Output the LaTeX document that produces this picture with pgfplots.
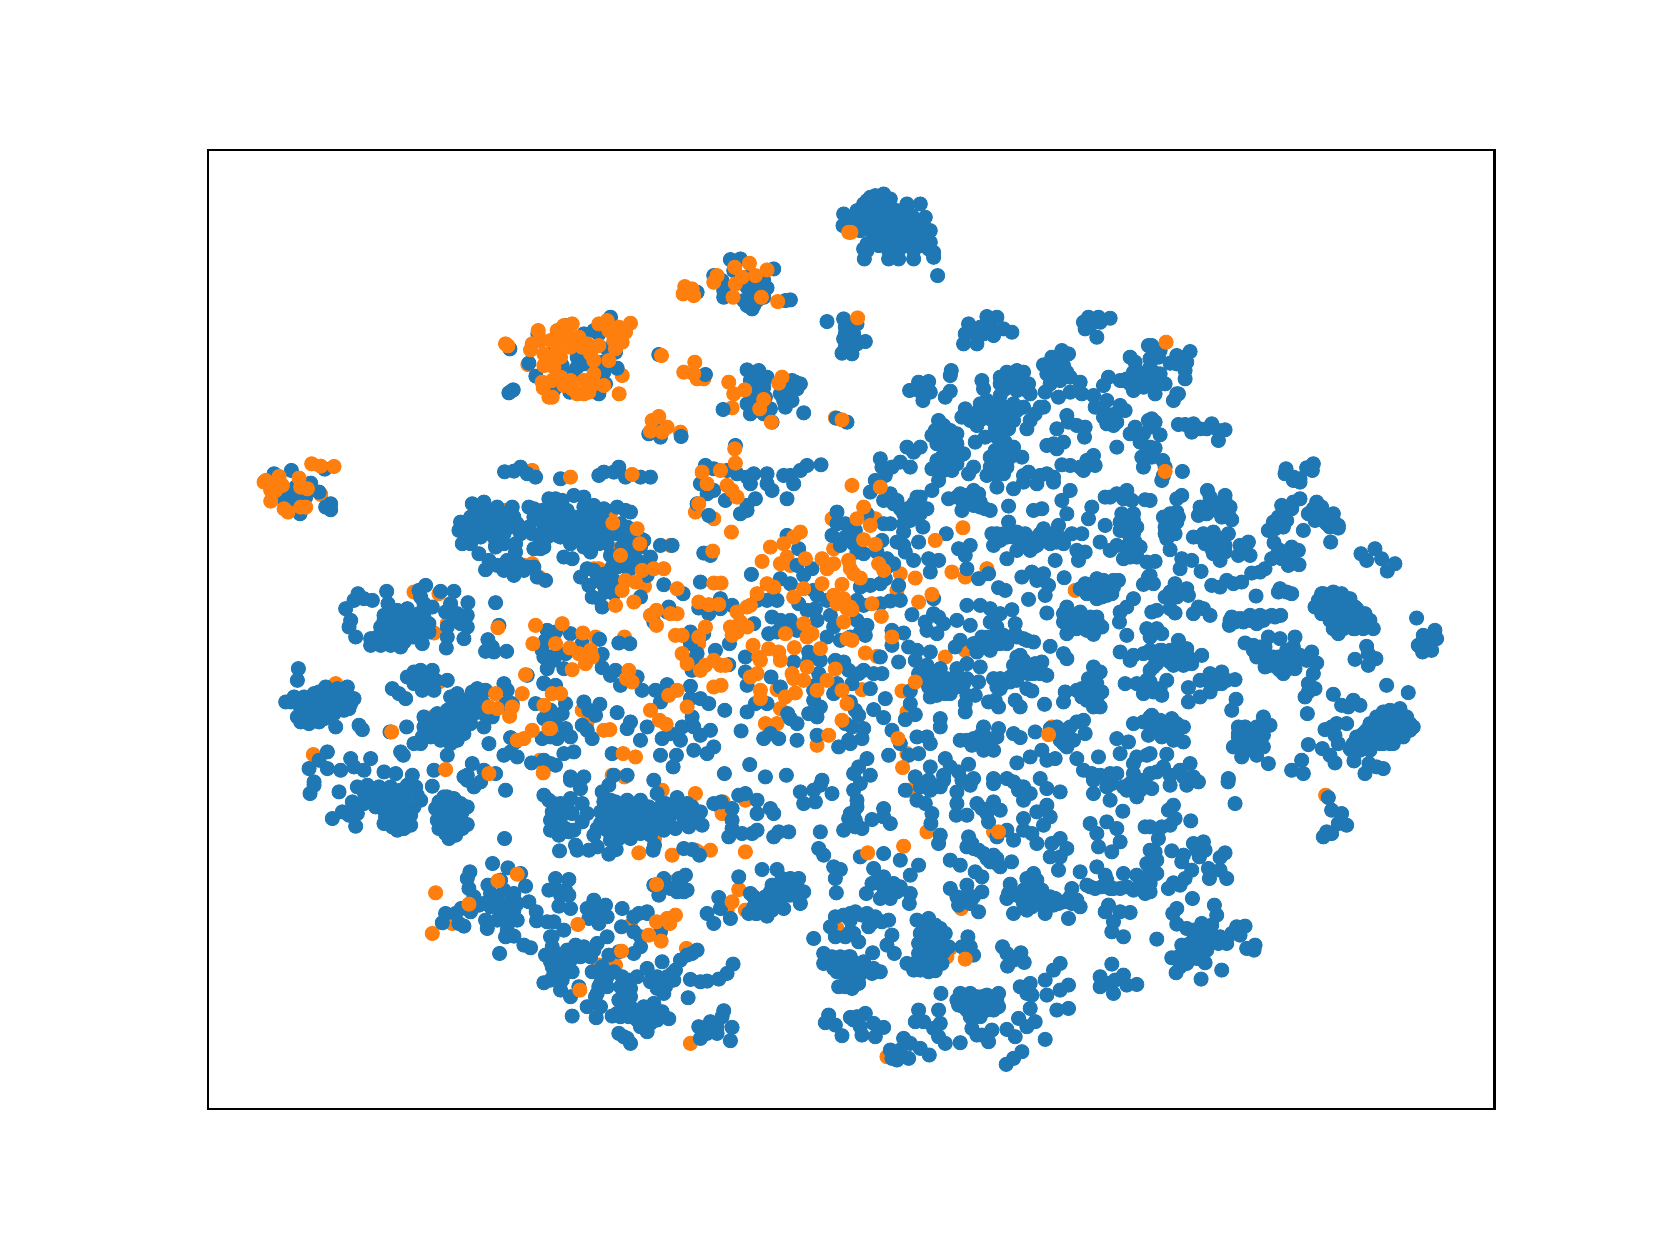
\documentclass[border=0pt]{standalone}
\usepackage{pgfplots}
\pgfplotsset{compat=1.18}
\definecolor{tabblue}{HTML}{1F77B4}
\definecolor{taborange}{HTML}{FF7F0E}
\begin{document}
\begin{tikzpicture}
\path (-103.8pt,-68.5pt) rectangle (727.3pt,554.5pt);
\begin{axis}[scale only axis,width=643.5pt,height=480pt,at={(0.5pt,-0.4pt)},anchor=south west,
 xmin=-127,xmax=3734,ymin=-93,ymax=2787,y dir=reverse,xtick=\empty,ytick=\empty,
 axis line style={line width=1.05pt,black},clip=true]
% orange, drawn first
\addplot[only marks,mark=*,mark size=3.55pt,color=taborange,mark options={draw=none,fill=taborange}] coordinates {
(832,552)(782,632)(845,870)
(1115,585)(1106,640)(1360,595)(1445,682)(1500,670)(1755,712)(1290,755)(1340,595)
(210,942)(765,990)(845,1150)(865,1190)(820,1155)(490,1235)(565,1240)(590,1330)(550,1358)(255,1510)(565,1505)(550,1608)(188,1723)(868,1740)
(1080,1000)(1045,1165)(1030,1165)(1105,1105)(1182,1218)(1280,1300)(1260,1095)(1335,995)(1390,1015)(1620,1155)(1745,1015)(1610,1130)(1570,1225)(1750,1105)(1610,1330)(1470,1340)(1345,1390)(1590,1585)(1580,1528)(1545,1630)(1580,1630)(1155,1730)(1085,1785)(995,1590)(1010,1625)(1700,1695)(1122,1370)(1035,1370)(1122,1790)
(1875,1015)(1950,1180)(2145,1190)(2210,1165)(1940,1230)(2005,1265)(2475,1230)(1970,1605)(1955,1532)(1880,1428)(2085,1430)(2145,1410)(1835,1528)(1970,1595)(1970,1720)(1995,1790)(2405,1640)
(1165,2018)(1235,1830)(1335,1840)(1212,1975)(1343,2015)(1415,1900)(1485,2015)(1380,2010)(1270,2105)(1308,2305)(1265,2025)(1320,2590)(1335,2010)(1485,1860)(1412,1885)(1418,1865)(1465,2128)(1430,2190)(1760,2245)(1485,2190)(1045,2355)(1095,2355)(1140,2235)
(1975,1830)(2030,1955)(2230,1955)(2133,2185)(2100,2305)(2090,2330)(1910,2630)
(3227,1845)
(605,2230)(545,2260)(345,1822)
};
% blue
\addplot[only marks,mark=*,mark size=3.55pt,color=tabblue,mark options={draw=none,fill=tabblue}] coordinates {
(778,505)(835,548)(856,587)(775,637)(788,628)(862,460)(222,866)(122,870)(70,880)(180,908)(762,874)(790,872)(810,860)(830,880)(855,890)
(1080,410)(1115,452)(1030,450)(1000,460)(1045,460)(975,490)(915,500)(1070,505)(935,555)(980,530)(980,560)(970,575)(1000,550)(1055,545)(1060,575)(1100,563)(910,628)(958,635)(1045,640)(1065,610)(1095,515)(945,435)
(1225,522)(1365,582)(1340,335)
(1440,237)(1470,235)(1390,285)(1420,330)(1420,350)(1490,375)(1505,385)(1510,320)(1550,322)(1540,300)(1490,290)(1570,265)(1500,350)(1620,358)(1605,360)(1415,300)(1450,270)(1520,360)
(1730,423)(1780,415)(1785,440)(1780,475)(1775,518)(1790,500)(1785,460)(1780,100)(1778,135)(1800,125)
(1490,568)(1525,570)(1550,590)(1520,600)(1540,620)(1500,640)(1530,640)(1500,670)(1500,700)(1540,700)(1560,685)(1565,725)(1418,687)(1490,670)(1625,600)(1650,610)(1600,640)(1620,625)(1605,680)(1660,697)(1635,605)(1520,660)
(1758,713)(1790,725)(1195,760)(1230,770)(1292,768)(1220,745)
(1455,795)(1365,855)(1390,865)(1430,870)(1460,880)(1510,880)(1550,880)(1600,885)(1620,885)(1650,870)(1670,855)(1712,853)(1490,890)(1105,860)(1060,875)(1045,885)(1090,875)(1125,890)(1170,890)(1200,890)(930,895)
(1860,50)(1900,40)(1920,55)(1840,70)(1880,70)(1910,80)(1970,70)(2010,70)(2025,110)(2040,150)(2040,185)(2050,215)(2050,230)
(1850,60)(1880,60)(1910,60)(1820,90)(1850,90)(1880,90)(1910,90)(1940,90)(1970,90)(1820,120)(1850,120)(1880,120)(1910,120)(1940,120)(1970,120)(1830,150)(1860,150)(1890,150)(1920,150)(1950,150)(1980,150)(2010,150)(1870,180)(1900,180)(1930,180)(1960,180)(1990,180)(2030,180)(1850,210)(1915,210)(1945,210)(1990,210)(1842,235)(1915,235)(1945,235)(1990,235)(2062,285)
(1820,430)(1810,460)(1845,483)(1820,490)(1805,520)(1795,470)(1790,440)(1785,500)
(1978,630)(2005,605)(2035,603)(2040,635)(2018,660)(2005,630)(2103,570)(2100,585)(2100,632)(2085,650)
(2210,408)(2240,410)(2155,430)(2145,460)(2140,490)(2180,490)(2190,440)(2220,440)(2230,465)(2260,445)(2285,455)(2175,460)(2200,460)
(2515,410)(2545,410)(2580,413)(2505,445)(2540,470)(2520,435)(2500,425)(2550,425)
(2195,600)(2200,625)(2300,570)(2260,590)(2250,610)(2280,600)(2320,575)(2335,610)(2310,610)(2250,645)(2340,640)
(2435,510)(2455,520)(2405,530)(2380,553)(2390,580)(2420,560)(2450,575)(2430,600)(2460,635)(2425,650)(2385,635)(2490,605)(2495,640)(2530,645)(2410,590)(2440,555)
(2560,615)(2575,590)(2610,600)(2640,530)(2655,545)(2660,570)(2650,630)(2630,595)(2660,600)(2685,580)(2695,495)(2700,535)(2680,620)(2700,610)
(2535,680)(2570,660)(2560,690)(2610,675)(2625,690)(2595,700)(2570,730)(2590,735)(2560,710)(2600,725)
(2145,685)(2135,710)(2160,720)(2190,670)(2210,660)(2220,690)(2180,735)(2250,700)(2290,670)(2320,680)(2280,700)(2370,680)(2380,680)(2355,700)(2340,720)(2330,745)(2250,740)(2275,745)(2235,745)(2450,705)(2420,745)(2480,735)(2505,740)(2503,770)(2455,725)
(2065,720)(2080,735)(2045,765)(2120,760)(2055,750)(2100,750)
(1970,800)(2010,800)(1950,845)(1980,860)(1925,860)(1890,835)(1895,860)(1905,885)(1875,900)(1990,815)
(2085,800)(2100,810)(2075,830)(2065,860)(2045,865)(2100,845)(2140,820)(2120,790)(2090,830)(2120,850)
(2205,770)(2175,785)(2240,770)(2265,785)(2235,810)(2290,800)(2315,830)(2250,830)(2220,860)(2240,880)(2170,860)(2155,880)(2210,885)(2270,860)(2280,830)
(2390,795)(2410,790)(2440,785)(2420,805)(2600,800)(2435,853)(2460,855)(2490,860)(2500,870)(2530,825)(2535,855)(2510,840)(2320,885)(2335,875)(2390,880)(2370,885)(2410,890)
(2675,830)(2680,860)(2690,800)(2640,760)(2655,740)(2680,760)(2670,785)(2695,720)(2700,800)
(2705,495)(2730,510)(2725,530)(2700,535)(2760,548)(2780,525)(2820,513)(2800,530)(2810,545)(2805,570)(2805,595)(2780,550)(2710,575)(2730,580)(2715,600)(2745,610)(2715,640)(2705,590)(2780,640)(2770,660)(2785,640)
(2705,715)(2715,725)(2700,740)(2785,732)(2805,732)(2830,730)(2825,755)(2850,745)(2885,730)(2870,745)(2925,748)(2905,750)(2905,780)(2730,763)(2715,803)(2705,830)(2738,840)(2745,860)(2740,885)(2797,873)
(3108,865)(3105,880)(3130,890)(3150,895)(3170,862)(3190,850)(3187,870)
(70,910)(95,955)(120,940)(130,975)(148,1000)(205,935)(150,940)(240,970)(240,988)(225,980)(135,920)(165,950)
(665,970)(700,965)(740,980)(785,980)(835,980)(850,985)(690,1000)(720,1010)(760,1015)(790,1010)(630,1025)(625,1050)(660,1030)(690,1040)(720,1030)(750,1040)(780,1040)(835,1040)(880,1025)(810,1060)(870,1060)(900,1030)(660,1065)(690,1070)(730,1070)(760,1060)(635,1090)(685,1120)(735,1100)(795,1090)(795,1115)(870,1105)(850,1105)(895,955)(900,990)(715,1140)(705,1168)(740,1155)(770,1140)(795,1150)(760,1170)(790,1185)(820,1170)(850,1160)(860,1190)(885,1200)(735,1095)(660,1090)
(322,1240)(310,1260)(285,1285)(365,1260)(340,1255)(300,1320)(295,1340)(315,1370)(408,1233)(525,1215)(505,1230)(570,1233)(610,1233)(652,1267)(412,1270)(400,1305)(440,1290)(470,1285)(510,1250)(545,1280)(520,1270)(600,1270)(585,1295)(620,1300)(650,1305)(650,1340)(640,1375)(590,1340)(590,1370)(587,1403)(535,1355)(515,1390)(390,1340)(420,1350)(450,1320)(490,1310)(520,1310)(470,1350)(360,1375)(390,1395)(420,1395)(450,1400)(410,1370)(380,1370)(480,1370)(440,1370)(500,1340)(610,1320)(630,1330)(400,1320)(430,1320)
(735,1267)(745,1335)(712,1378)(705,1413)(730,1415)(768,1413)(725,1400)
(890,1350)(875,1410)(885,1380)(880,1430)(890,1465)(900,1430)(880,1508)(830,1485)
(143,1465)(140,1500)(105,1565)(130,1550)(160,1550)(190,1540)(225,1520)(260,1525)(290,1520)(310,1555)(280,1590)(250,1570)(210,1565)(175,1580)(140,1610)(175,1630)(205,1625)(235,1600)(255,1640)(325,1635)(335,1648)(190,1600)(220,1550)(170,1600)(250,1600)(280,1560)
(425,1525)(465,1555)(445,1540)(470,1490)(490,1475)(510,1470)(545,1470)(590,1500)(515,1530)(550,1530)(490,1510)(520,1500)(555,1500)(418,1655)(468,1640)
(620,1540)(600,1550)(640,1560)(680,1525)(690,1540)(665,1535)(705,1530)(520,1610)(560,1600)(590,1590)(620,1600)(650,1580)(670,1600)(520,1640)(550,1630)(580,1620)(610,1635)(640,1620)(700,1600)(725,1610)(700,1640)(515,1670)(490,1690)(540,1670)(570,1680)(600,1690)(590,1660)(640,1660)(715,1690)(560,1645)(530,1660)(610,1670)
(760,1510)(770,1530)(785,1570)(765,1570)(855,1570)(880,1615)(880,1510)(780,1672)(795,1685)(875,1675)(900,1670)(760,1725)(780,1715)(800,1730)(843,1748)(880,1740)(900,1750)
(230,1715)(205,1740)(175,1765)(300,1735)(360,1735)(270,1770)(310,1760)(340,1770)(230,1765)(400,1775)(435,1780)(485,1785)(190,1805)(458,1725)(450,1715)(550,1770)(590,1725)(665,1750)(650,1785)(710,1780)(735,1780)(700,1770)(640,1790)
(915,955)(970,945)(920,990)(950,990)(1000,980)(1030,975)(930,1020)(970,1010)(1000,1010)(1040,1010)(920,1040)(960,1050)(1000,1050)(1030,1040)(1055,1015)(990,1080)(930,1070)(960,1090)(1000,1100)(940,1130)(965,1135)(1100,980)(1125,990)(1140,995)(1130,1040)(1110,1030)(1050,1070)(1020,1080)(1070,1090)(1120,1070)(1170,1075)(1180,1080)(1080,1125)(1115,1100)(1150,1120)(1190,1145)(1135,1170)(1100,1160)(1190,1185)(1010,1165)(990,1190)(1030,1170)(1015,1215)(1065,1235)(1045,1255)(1055,1280)(1090,1240)(1170,1250)(1265,1095)(1230,1095)(1240,1213)(1298,1240)(1503,1182)(1350,1205)
(1210,1325)(1255,1280)(1250,1295)(1345,1283)(1375,1300)(1410,1255)(1410,1285)(1445,1275)(1360,1118)(1380,1125)
(1645,1105)(1610,1065)(1640,1155)(1685,1165)(1760,995)(1760,1030)(1785,1030)(1745,1065)(1770,1095)(1785,1070)(1660,1185)(1590,1195)(1620,1210)(1690,1230)(1730,1260)(1645,1270)(1580,1260)(1550,1260)(1520,1260)(1700,1245)(1695,1285)(1670,1290)(1700,1320)(1565,1310)(1590,1320)(1580,1355)(1555,1360)(1620,1320)(1595,1340)(1640,1350)(1510,1330)
(1740,1305)(1750,1340)(1730,1370)(1770,1380)(1800,1370)
(1437,1390)(1395,1410)(1485,1430)(1630,1445)(1435,1453)(1320,1355)(1320,1390)(1360,1360)(1340,1420)(1325,1440)(1325,1470)
(1485,1475)(1490,1515)(1562,1490)(1590,1520)(1515,1570)(1550,1570)(1490,1595)(1675,1415)(1675,1440)(1710,1440)(1705,1480)(1695,1515)(1690,1530)(1690,1560)(1710,1580)(1675,1600)(1700,1610)(1780,1445)(1755,1440)(1760,1510)(1750,1540)(1795,1470)
(1785,1630)(1795,1680)(1765,1700)(1700,1665)(1612,1600)(1620,1615)(1640,1630)(1560,1660)(1540,1675)(1585,1675)(1640,1680)
(1472,1652)(1423,1590)(1320,1518)(1250,1513)(1215,1530)(1175,1530)(1230,1565)(1325,1610)(1320,1555)(1350,1555)(1375,1570)(1100,1597)(1140,1625)(1190,1640)(1170,1680)(1130,1645)
(1235,1675)(1260,1660)(1295,1640)(1330,1640)(1380,1650)(1350,1665)(1290,1680)(1330,1710)(1370,1720)(1390,1700)(1230,1725)(1278,1725)(1268,1760)(1085,1720)(1090,1785)(1130,1785)(960,1790)(1000,1790)(1210,1800)(1422,1780)(1545,1790)(1608,1785)(1498,1753)
(915,1355)(960,1360)(995,1390)(1047,1377)(1055,1422)(1055,1462)(1105,1388)(1138,1390)(920,1420)(945,1420)(910,1440)(940,1465)(1080,1485)(1110,1515)(1095,1470)(1160,1490)(915,1515)
(1000,1565)(1048,1572)(945,1570)(1015,1590)(1035,1605)(900,1590)(935,1600)(915,1630)(945,1645)(920,1675)(960,1670)(995,1635)(1025,1675)(1010,1650)(970,1715)(940,1720)(915,1755)
(1565,930)(1610,955)(1630,910)(1550,910)(1500,910)(1340,970)(1375,1005)(1470,1000)(1515,955)(1490,975)(1425,960)(1370,940)(1350,910)(1390,930)(1490,990)
(2045,930)(2065,900)(2010,950)(1990,970)(1950,985)(1960,1030)(2030,985)(1980,1020)(1920,940)(1930,970)(1860,935)(1900,960)(1850,1000)(1900,1030)(1920,1030)(2018,1040)(2088,1060)(1815,1050)(1800,1045)(1895,1080)(1810,1090)
(2095,955)(2130,940)(2170,930)(2135,990)(2160,970)(2190,980)(2220,990)(2170,950)(2275,977)(2240,920)(2290,925)(2320,905)(2360,910)(2410,905)(2350,990)(2375,985)
(2460,930)(2435,960)(2450,1000)(2525,980)(2515,1015)(2565,1035)(2580,950)(2630,930)(2645,960)(2610,1025)(2650,1020)(2685,958)
(2275,1025)(2225,1060)(2230,1095)(2270,1070)(2300,1055)(2325,1060)(2270,1135)(2300,1110)(2340,1090)(2380,1045)(2425,1035)(2390,1065)(2440,1090)(2400,1090)(2465,1060)(2495,1060)(2480,1110)(2485,1140)(2505,1115)(2415,1140)(2360,1095)(2550,1085)
(2630,1055)(2655,1085)(2660,1130)(2620,1135)(2580,1110)(2600,1095)(2625,1100)(2690,1145)(2125,1105)(2160,1095)(2145,1125)
(1940,1085)(2005,1085)(1965,1115)(1910,1135)(1930,1150)(1990,1140)(2065,1140)(2035,1135)(1960,1095)(1880,1115)(1840,1120)(1820,1115)
(2040,1175)(2150,1165)(2185,1195)(2215,1180)(1905,1195)(1890,1210)(1860,1215)(1945,1215)(1830,1220)(1910,1160)
(2245,1222)(2265,1230)(2335,1257)(2385,1245)(2315,1190)(2345,1175)(2380,1180)(2360,1200)(2395,1215)(2442,1192)
(2505,1210)(2540,1195)(2490,1225)(2525,1230)(2555,1250)(2590,1220)(2605,1200)(2550,1220)(2680,1212)(2695,1190)
(2050,1255)(1950,1260)(1920,1262)(1890,1270)(1820,1260)(1840,1275)(1985,1303)(2050,1300)(2025,1325)(2030,1350)(2060,1360)(2080,1330)(2120,1320)(2160,1335)(2065,1310)
(2150,1275)(2190,1275)(2220,1285)(2285,1288)(2220,1325)(2250,1300)(2295,1330)(2240,1340)(2390,1298)
(2440,1300)(2490,1295)(2520,1310)(2545,1330)(2450,1360)(2530,1362)(2440,1325)(2480,1330)(2500,1340)
(2650,1255)(2630,1280)(2610,1295)(2608,1325)(2690,1345)(2630,1365)(2400,1398)(2440,1420)(2450,1435)
(1925,1350)(1960,1358)(1925,1395)(1830,1355)(1850,1335)(1820,1320)(1845,1365)(1890,1430)(1945,1445)
(1975,1400)(2000,1410)(2040,1415)(1995,1440)(2030,1455)(2005,1480)(2115,1400)(2175,1390)(2215,1370)(2240,1390)(2270,1375)(2330,1380)(2180,1415)(2220,1410)(2295,1360)(2130,1380)
(2120,1465)(2150,1450)(2190,1460)(2040,1490)(2070,1465)(2050,1520)(2090,1510)(2140,1510)(2040,1550)(2100,1540)(2185,1505)
(2310,1425)(2290,1455)(2320,1460)(2375,1445)(2390,1485)(2350,1480)(2230,1495)(2240,1520)(2280,1505)(2330,1525)(2345,1532)(2320,1455)
(2610,1415)(2650,1425)(2680,1420)(2640,1440)(2700,1410)(2625,1510)(2660,1510)(2680,1540)(2700,1470)(2690,1500)
(2530,1460)(2550,1475)(2515,1495)(2540,1510)(2495,1525)(2445,1535)(2440,1565)(2480,1530)(2520,1540)(2555,1535)(2550,1580)(2510,1560)
(1980,1532)(1980,1570)(1965,1618)(1995,1603)(2150,1545)(2175,1545)(2145,1595)(2145,1570)(2215,1565)(2235,1560)(2245,1580)(2295,1560)(2310,1580)(2383,1572)
(1840,1470)(1870,1480)(1895,1480)(1860,1525)(1905,1555)(1825,1480)(1805,1510)(1800,1565)(1815,1590)(1825,1605)(1870,1588)(1900,1612)(1840,1645)(1835,1675)(1805,1640)(1800,1690)
(2070,1615)(2070,1640)(1925,1650)(1950,1690)(2000,1670)(2030,1670)(2040,1690)(2005,1720)(1975,1725)(1915,1725)(1850,1735)(1825,1760)(1810,1780)(1860,1785)(2040,1760)(2085,1735)(2100,1760)(2125,1775)(2080,1785)(2155,1752)(1995,1790)
(2130,1680)(2170,1675)(2200,1640)(2185,1670)(2230,1710)(2245,1645)(2290,1660)(2310,1672)(2355,1655)(2420,1655)(2440,1650)(2450,1700)(2480,1625)(2500,1620)(2505,1660)(2470,1680)(2400,1645)(2430,1680)
(2300,1748)(2340,1730)(2375,1710)(2415,1735)(2390,1740)(2480,1735)(2545,1730)(2525,1780)(2500,1770)(2600,1675)(2635,1685)(2610,1720)(2650,1750)(2660,1730)(2580,1780)(2600,1780)(2550,1785)(2650,1780)(2690,1725)(2695,1665)(2650,1630)(2680,1625)(2700,1610)(2170,1795)(2230,1795)(2270,1795)(2370,1795)
(2735,900)(3150,905)(3130,900)(2795,945)(2780,955)(2872,930)(2925,945)(2940,980)(2945,1018)(2925,990)(2900,975)(2860,980)(2845,1005)(2885,960)(2850,995)(2740,1010)(2780,995)(2760,1010)(2780,1025)(2745,1040)(2775,1060)(2750,1075)(2760,1108)(2715,1143)
(2830,1070)(2860,1060)(2890,1055)(2935,1060)(2865,1090)(2905,1090)(2925,1115)(2890,1120)(2910,1140)(2900,1075)
(2995,1085)(2970,1095)(2965,1125)(3000,1125)(2985,1105)(2795,1135)(2790,1165)(2825,1140)(2853,1173)
(3072,1087)(3125,1100)(3145,1110)(3065,1135)(3100,1135)(3115,1155)(3147,1153)(3120,1125)(3005,1178)(3045,1165)(3030,1175)
(3095,975)(3150,955)(3130,965)(3100,1005)(3055,1050)(3070,1025)(3100,1040)(3090,1020)
(3200,965)(3175,1000)(3215,980)(3250,1000)(3200,1015)(3230,1030)(3265,1035)(3265,1043)(3160,1050)(3220,1000)
(3242,1085)(3333,1120)(3375,1105)(3350,1140)(3395,1135)(3435,1150)(3412,1172)
(2885,1215)(2910,1220)(2930,1200)(2975,1205)(2950,1210)(2710,1210)(2700,1185)(2775,1210)(2810,1225)(2745,1250)(2780,1250)(2815,1245)(2760,1235)
(3018,1247)(3090,1225)(3085,1235)(3125,1240)(3110,1235)
(3220,1240)(3250,1235)(3205,1280)(3300,1255)(3230,1300)(3270,1300)(3320,1285)(3340,1310)(3250,1345)(3265,1360)(3350,1320)(3370,1345)(3315,1345)(3290,1325)(3260,1260)(3275,1280)(3225,1275)
(3500,1313)(3555,1350)(3520,1365)(3560,1375)(3505,1395)(3545,1410)(3518,1415)(3530,1390)
(2720,1290)(2760,1285)(2775,1298)(2830,1300)(2845,1280)(2880,1305)(2860,1285)(2705,1295)
(2940,1320)(2938,1335)(2965,1315)(3000,1305)(3030,1305)(3065,1305)(3092,1305)(2980,1325)(3020,1330)
(2720,1345)(2735,1360)(2700,1370)
(2985,1388)(3055,1370)(3090,1375)(3135,1370)(3130,1400)(3010,1395)(3020,1430)(3045,1460)(3085,1450)(3105,1470)(3135,1465)(3100,1435)(3110,1410)(3045,1420)(3070,1430)
(3150,1425)(3185,1415)(3200,1448)(3170,1440)(3190,1480)(3175,1510)(3195,1525)(3165,1550)(3175,1535)
(3350,1398)(3355,1420)(3315,1437)(3355,1455)(3378,1435)
(2785,1380)(2810,1405)(2855,1425)(2825,1450)(2770,1455)(2720,1420)(2750,1425)(2790,1430)(2710,1460)(2735,1430)(2815,1430)
(2880,1480)(2850,1500)(2915,1475)(2915,1510)(2955,1498)(2885,1500)(2815,1522)(2815,1565)(2850,1550)(2880,1535)
(2750,1500)(2730,1525)(2735,1545)(2710,1535)(2700,1505)(2958,1557)(2945,1590)
(3410,1515)(3475,1537)(3250,1542)(3310,1560)(3275,1575)(3295,1580)(3330,1575)
(3172,1600)(3260,1630)(3290,1630)(3225,1648)(3265,1690)(3245,1640)(3255,1665)
(3400,1595)(3450,1585)(3380,1610)(3470,1610)(3360,1630)(3480,1650)(3340,1660)(3310,1690)(3330,1690)(3300,1705)(3360,1690)(3420,1690)(3400,1630)(3430,1620)(3460,1670)(3380,1660)(3420,1650)(3350,1675)(3390,1690)
(3175,1693)(3217,1705)(3240,1725)(3255,1748)(3312,1742)(3357,1750)(3400,1765)(3345,1780)(3380,1760)
(2705,1605)(2705,1630)(2740,1635)(2765,1615)(2800,1640)(2735,1670)(2770,1680)(2800,1685)(2760,1650)
(2965,1640)(2985,1640)(3040,1610)(3060,1635)(3030,1645)(2950,1700)(2975,1730)(3020,1725)(2980,1680)(3010,1680)(3030,1680)(2965,1670)(3000,1660)
(3055,1750)(3155,1740)(3125,1770)(3160,1780)(2935,1795)(2750,1722)(2740,1760)(2720,1775)(2820,1750)(2790,1770)(2830,1790)(2700,1780)(2700,1720)(2760,1785)(2800,1790)(2700,960)
(190,1815)(178,1840)(265,1835)(305,1865)(245,1915)(275,1895)(320,1900)(315,1938)(295,1905)
(320,1820)(345,1850)(375,1880)(400,1890)(350,1815)(385,1820)(420,1820)(430,1860)(470,1815)(495,1820)(460,1850)(510,1860)(545,1818)(380,1850)(410,1855)(440,1900)(480,1905)(450,1925)(400,1930)(440,1950)(480,1935)(430,1925)
(580,1850)(610,1855)(650,1880)(555,1885)(590,1880)(620,1890)(560,1920)(590,1915)(620,1925)(650,1933)(565,1945)(600,1950)(615,1965)(595,1975)(630,1910)
(670,1820)(650,1800)(690,1805)(765,1830)(762,1975)(880,1845)(895,1860)(900,1920)(900,1950)
(726,2050)(772,2063)(810,2080)(658,2075)(650,2095)(655,2125)(712,2115)(750,2100)(825,2118)
(670,2150)(700,2170)(720,2140)(760,2130)(790,2140)(740,2160)(775,2170)(835,2165)(800,2170)(685,2175)(720,2180)(750,2190)(790,2190)
(585,2200)(615,2200)(632,2185)(660,2195)(575,2228)(625,2230)(640,2238)
(705,2220)(710,2245)(740,2220)(775,2225)(800,2220)(765,2270)(790,2268)(770,2250)(755,2210)
(820,2295)(840,2303)(747,2320)(857,2195)(858,2222)(890,2225)(900,2270)(885,2325)(900,2345)(880,2408)(900,2400)(895,2130)
(960,1800)(990,1825)(1055,1835)(1075,1815)(960,1855)(995,1870)(910,1870)(930,1885)(1010,1900)(995,1925)(955,1955)(925,1965)(970,1950)(910,1920)(930,1930)(975,1995)(927,2012)(1015,2010)(1040,2000)(1075,2022)(1097,2008)(980,2010)
(1095,1865)(1050,1895)(1050,1930)(1030,1965)(1070,1950)(1110,1950)(1140,1975)(1080,1910)(1130,1860)(1150,1885)(1170,1860)(1220,1840)(1245,1870)(1220,1900)(1250,1915)(1240,1950)(1180,1950)(1140,1920)(1190,1910)(1110,1900)(1210,1940)(1165,1930)(1100,1930)(1280,1852)(1080,1860)
(1212,1995)(1208,2010)(1310,1915)(1330,1910)(1315,1940)(1355,1935)(1350,1895)(1300,2005)(1325,2008)(1347,2025)
(1390,1870)(1412,1865)(1445,1885)(1445,1920)(1435,1970)(1465,1845)(1485,1840)(1520,1860)(1560,1885)(1570,1900)(1520,1900)(1520,1950)(1475,1960)(1505,1960)(1445,1945)
(1570,1970)(1585,1955)(1615,1955)(1660,1870)(1650,1835)(1695,1865)(1690,1830)(1710,1815)(1745,1840)(1715,1800)
(1710,1955)(1780,1950)(1795,1915)(1800,1900)(1705,2005)(1720,2025)(1750,2060)(1770,2068)(1755,2095)(1758,2138)
(1240,2095)(1210,2115)(1225,2145)(1305,2085)(1285,2095)(1295,2120)(1310,2130)(1260,2125)(1280,2135)(1300,2135)(1465,2090)
(1535,2068)(1580,2068)(1565,2115)(1595,2095)(1620,2095)(1645,2095)(1660,2135)(1650,2170)(1600,2185)(1620,2145)(1585,2130)(1500,2140)(1530,2160)(1560,2160)(1495,2200)(1520,2200)(1550,2208)(1510,2180)(1540,2180)
(1405,2152)(1370,2200)(1390,2230)(1410,2185)(1440,2215)(1690,2275)
(1755,2210)(1780,2205)(1800,2200)(1740,2240)(1755,2270)(1785,2270)(1800,2255)
(1720,2320)(1720,2350)(1745,2330)(1770,2330)(1795,2330)(1750,2365)(1780,2375)(1765,2420)(1800,2415)(1785,2420)(1800,2370)
(1735,2505)(1725,2528)(1755,2535)(1775,2567)(1800,2512)
(915,2095)(955,2098)(915,2125)(945,2130)(955,2145)(930,2145)(925,2178)(960,2185)(1010,2185)(1030,2160)(1065,2175)(1070,2210)(1045,2230)(1015,2215)(1030,2195)(1050,2195)(1115,2185)(1113,2240)(1150,2210)(1190,2195)(1165,2200)
(910,2225)(940,2250)(905,2270)(1150,2255)(1170,2270)(1170,2300)(1150,2320)(1105,2315)(1075,2325)(1040,2290)(1070,2270)(975,2295)(1000,2300)(990,2330)(960,2340)(915,2320)(935,2330)(905,2360)(920,2395)(965,2375)(930,2430)(960,2450)(1010,2480)(985,2420)(965,2508)(1037,2513)
(1025,2375)(1055,2360)(1070,2390)(1050,2410)(1040,2440)(1050,2480)(1090,2375)(1035,2450)
(1115,2390)(1135,2400)(1130,2430)(1140,2450)(1160,2390)(1190,2365)(1220,2390)(1235,2345)(1205,2390)(1220,2425)(1245,2420)(1275,2370)(1290,2340)(1310,2325)(1340,2310)(1325,2320)(1250,2390)
(1105,2460)(1085,2508)(1110,2510)(1130,2470)(1150,2500)(1180,2480)(1210,2470)(1220,2500)(1160,2520)(1200,2530)(1190,2555)(1255,2516)(1170,2540)(1105,2560)(1130,2575)(1140,2590)(1120,2570)(1235,2495)(1230,2255)(1190,2200)
(1320,2398)(1350,2405)(1370,2403)(1405,2397)(1430,2380)(1448,2352)(1313,2453)
(1420,2492)(1380,2525)(1345,2540)(1400,2540)(1445,2542)(1350,2575)(1440,2582)(1415,2510)(1370,2560)(1400,2560)
(1830,1810)(1810,1830)(1810,1900)(1820,1880)(1865,1918)(1900,1885)(1920,1930)(1900,1910)(1815,1940)(1835,1945)
(1965,1830)(2000,1860)(2010,1820)(2040,1830)(2035,1800)(2070,1820)(2045,1900)(2042,1930)(2025,1870)(2080,1800)(2135,1800)
(2120,1835)(2120,1870)(2118,1905)(2150,1905)(2180,1870)(2230,1865)(2250,1890)(2210,1900)(2215,1925)(2195,1885)(2160,1815)(2230,1810)(2290,1805)
(2310,1820)(2320,1860)(2305,1830)(2340,1840)(2390,1825)(2430,1835)(2360,1895)(2390,1875)(2400,1910)(2320,1915)
(2530,1840)(2580,1860)(2530,1800)(2585,1810)(2570,1820)(2660,1850)(2630,1830)(2618,1893)(2650,1810)(2690,1820)
(2520,1930)(2570,1925)(2600,1945)(2610,1985)(2545,2000)(2585,2015)(2540,1960)(2685,1940)(2700,2010)
(2240,1970)(2270,1950)(2290,1980)(2320,1950)(2360,1990)(2345,1960)(2380,1935)(2430,1975)(2450,2005)(2400,2030)(2430,2030)(2425,2070)(2405,1990)
(2070,1965)(2065,1990)(2155,1970)(2150,2000)(2185,2010)(2230,2025)(2250,2060)(2284,2045)(2210,2035)
(2100,2040)(2130,2055)(2175,2075)(2195,2090)
(2490,2075)(2540,2060)(2565,2085)(2510,2115)(2535,2125)(2580,2125)(2620,2080)(2660,2085)(2690,2050)(2695,2090)(2610,2125)(2650,2130)(2685,2140)(2670,2100)(2570,2100)
(2350,2080)(2330,2095)(2360,2100)(2280,2112)(2270,2155)(2310,2150)(2290,2200)(2325,2150)(2330,2190)(2360,2170)(2400,2150)(2385,2200)(2425,2170)(2465,2125)(2460,2150)(2490,2180)(2455,2215)(2375,2130)
(2575,2175)(2565,2195)(2610,2195)(2640,2197)(2590,2225)(2585,2255)(2620,2270)
(2100,2125)(2150,2115)(2195,2135)(2125,2175)(2145,2150)(2170,2150)(2185,2195)(2160,2170)(2120,2150)
(1830,2030)(1900,2020)(1950,2040)(2005,2055)(1980,2085)(1870,2065)(1900,2090)(1865,2110)(1848,2140)(1890,2155)(1920,2155)(1930,2110)(1950,2120)(1980,2140)(1977,2170)(1910,2130)
(1815,2195)(1850,2200)(1875,2210)(1915,2220)(1855,2240)(1925,2265)(1910,2295)(1932,2320)(1867,2318)(1810,2260)(1825,2285)(1800,2220)
(2000,2220)(2035,2215)(2055,2235)(2010,2260)(2085,2260)(2005,2290)(2040,2270)(2005,2320)(2040,2320)(2080,2315)(1970,2350)(2010,2370)(2055,2372)(2060,2340)(2040,2290)(2025,2350)
(2153,2270)(2160,2300)(2135,2300)(2170,2325)(2257,2300)(2270,2320)(2312,2318)(2322,2347)(2272,2358)(2290,2340)
(2430,2350)(2410,2370)(2385,2400)(2310,2420)(2340,2410)(2330,2440)(2345,2445)(2390,2445)(2430,2430)(2455,2415)(2420,2490)(2455,2485)(2340,2485)
(1800,2330)(1815,2350)(1845,2360)(1890,2375)(1865,2380)(1825,2390)(1805,2425)(1840,2345)
(2072,2440)(2140,2445)(2125,2475)(2160,2440)(2195,2450)(2160,2480)(2200,2490)(2190,2510)(2245,2440)(2245,2480)(2220,2460)(2160,2510)(2140,2480)
(2005,2490)(2065,2490)(1995,2525)(2020,2525)(2070,2530)(2050,2545)(2085,2590)(2065,2570)
(2165,2545)(2195,2565)(2225,2550)(2215,2585)(2180,2565)(2270,2548)(2305,2515)(2295,2570)(2330,2540)(2355,2525)(2385,2578)(2130,2588)
(1820,2510)(1845,2500)(1830,2540)(1835,2565)(1875,2570)(1900,2542)(1870,2530)(1810,2520)
(1920,2610)(1960,2575)(1940,2640)(1975,2635)(2010,2605)(2037,2625)(1980,2590)(1925,2635)(1950,2610)
(2315,2615)(2290,2635)(2268,2653)
(2585,2352)(2550,2390)(2550,2420)(2590,2440)(2620,2385)(2660,2413)(2595,2400)(2570,2410)(2630,2415)
(2705,1825)(2760,1815)(2810,1815)(2845,1805)(2934,1805)(2955,1870)(2770,1875)(2755,1890)(2775,1915)(2760,1935)(2735,1940)(2725,1975)(2822,1922)(2700,1940)
(2765,2012)(2800,2025)(2795,2045)(2825,2070)(2805,2095)(2790,2115)(2755,2125)(2770,2108)
(2715,2015)(2720,2040)(2700,2070)(2720,2080)(2700,2100)(2700,2135)
(2830,1990)(2860,1985)(2848,2030)(2865,2010)(2840,2010)
(2925,2018)(2910,2032)(2875,2065)(2910,2070)(2878,2095)(2930,2095)
(2827,2155)(2893,2175)(2900,2205)(2780,2185)(2768,2200)(2780,2232)(2810,2245)(2855,2230)(2885,2235)(2850,2270)(2910,2270)(2960,2240)(2985,2238)(2945,2260)(2970,2265)(2880,2280)(2905,2290)(2930,2290)(2990,2305)(3015,2295)(3012,2310)(2795,2295)(2820,2290)(2850,2300)(2765,2333)(2800,2325)(2830,2320)(2865,2348)(2810,2350)(2778,2378)(2915,2370)(2853,2397)(2720,2277)(2790,2345)
(3235,1852)(3245,1890)(3275,1900)(3290,1935)(3265,1930)(3245,1960)(3220,1970)(3230,1955)
% further points in the solid clusters
(1875,45)(1835,100)(1865,105)(1895,105)(1925,105)(1955,105)(1985,105)(1835,135)(1865,135)(1895,135)(1925,135)(1955,135)(1985,135)(2015,130)(1880,165)(1910,165)(1940,165)(1970,165)(2000,165)(1885,195)(1915,195)(1945,195)(1975,195)(2010,195)(2035,205)(1840,205)(1850,190)
(120,1565)(150,1565)(180,1565)(240,1565)(270,1565)(300,1570)(150,1585)(195,1585)(225,1585)(265,1585)(295,1585)(205,1535)(235,1535)(265,1540)(155,1615)(190,1615)(220,1615)(150,1625)(230,1612)
(3215,1240)(3245,1240)(3275,1240)(3205,1260)(3235,1260)(3265,1260)(3295,1260)(3195,1280)(3225,1280)(3255,1280)(3285,1280)(3315,1280)(3215,1300)(3245,1300)(3285,1300)(3315,1300)(3345,1300)(3240,1320)(3270,1320)(3300,1320)(3330,1320)(3360,1320)(3250,1345)(3280,1345)(3310,1345)(3340,1345)
(3420,1590)(3450,1590)(3390,1610)(3420,1610)(3450,1610)(3370,1630)(3400,1630)(3450,1630)(3480,1630)(3350,1650)(3380,1650)(3410,1650)(3440,1650)(3470,1650)(3320,1670)(3350,1670)(3380,1670)(3410,1670)(3440,1670)(3320,1690)(3350,1690)(3400,1690)(3430,1690)(3305,1710)(3330,1710)(3360,1710)(3470,1630)(3490,1640)
(400,1345)(430,1345)(460,1345)(490,1370)(400,1380)(430,1385)(460,1385)(360,1395)(510,1370)(480,1345)(460,1320)(420,1290)(430,1310)(505,1300)(535,1330)
(700,990)(730,995)(660,1010)(690,1020)(750,1060)(720,1055)(690,1055)(630,1045)(660,1050)(760,1000)(770,1025)(800,1030)(760,1090)(805,1150)(830,1160)(770,1155)(850,1010)(890,1070)(880,1100)(905,1010)
(340,1835)(370,1835)(400,1840)(430,1840)(360,1860)(390,1870)(415,1880)(450,1830)(480,1835)(500,1845)(340,1870)(460,1880)(490,1880)(420,1905)(460,1905)(425,1940)(460,1945)(405,1910)(450,1880)
(590,1850)(565,1865)(600,1865)(630,1870)(575,1900)(605,1900)(635,1895)(575,1935)(605,1935)(635,1945)(585,1960)(610,1950)
(1060,1865)(1090,1890)(1060,1915)(1090,1925)(1125,1895)(1160,1895)(1195,1880)(1230,1880)(1265,1880)(1240,1890)(1290,1890)(1300,1900)(1260,1905)(1170,1925)(1195,1935)(1225,1925)(1255,1930)(1040,1945)(1080,1980)(1105,1975)(1135,1950)(1170,1960)(1200,1965)(1275,1945)(1300,1915)(1325,1880)(1310,1870)(1275,1870)(1180,1880)(1150,1905)
(2020,2240)(2050,2250)(2015,2270)(2045,2260)(2060,2290)(2025,2295)(2075,2275)(2020,2330)(2060,2320)(2030,2345)(2050,2350)(2065,2310)(1990,2370)(2035,2375)(2075,2350)(2000,2345)(2095,2300)(2070,2245)
(2130,2460)(2160,2460)(2190,2470)(2220,2470)(2240,2465)(2175,2490)(2210,2490)(2130,2440)(2180,2450)(2210,2445)(2230,2490)(2150,2490)(2175,2510)(2120,2460)
(2830,2250)(2850,2250)(2830,2280)(2860,2285)(2815,2310)(2840,2305)(2870,2310)(2870,2265)(2800,2305)(2785,2330)(2810,2340)(2840,2335)(2790,2360)
(935,960)(1000,950)(1030,1000)(1060,985)(1060,1040)(1085,1050)(1045,1090)(1020,1115)(950,1030)(920,1065)(960,1070)(990,1040)(1070,1065)(1100,1060)(1125,1050)(1145,1075)(1135,1100)(1170,1100)(1200,1130)(1160,1140)(1120,1145)(1085,1160)(1065,1180)(1040,1200)(1090,1200)(1025,1250)(1060,1215)(875,990)(905,1010)(870,1020)(890,1060)(845,1060)(870,1090)
(1500,600)(1545,650)(1515,620)(1505,685)(1540,670)(1600,620)(1640,625)(1600,660)(1625,660)(1590,640)(1490,320)(1520,340)(1540,350)(1500,330)(1510,375)(1480,360)
(2270,575)(2290,590)(2250,590)(2330,630)(2265,625)(2300,630)(2395,560)(2410,550)(2430,545)(2405,570)(2435,580)(2460,590)(2400,610)
(2150,700)(2170,700)(2195,715)(2220,715)(2250,670)(2230,680)(2195,690)(2270,685)(2300,690)(2240,720)(2265,720)(2290,720)(2080,760)(2060,790)(2110,780)
(2110,825)(2060,840)(2090,850)(2080,870)(2105,870)(2130,825)(2260,800)(2260,815)(2220,830)(2240,850)(2270,830)(2290,820)(2230,880)(2260,880)(2620,600)(2650,575)(2670,590)(2640,610)(2670,615)(2700,580)(2700,560)
(2450,1315)(2480,1310)(2460,1340)(2510,1320)(2525,1330)(2540,1310)(2480,1345)(2510,1350)(2450,1280)(2490,1310)(2555,1340)
(2530,1210)(2560,1200)(2575,1215)(2510,1225)(2540,1235)(2570,1245)(2590,1200)(2510,1240)(2540,1255)(2585,1240)
(2170,1390)(2195,1370)(2230,1380)(2250,1390)(2270,1390)(2300,1370)(2210,1395)(2190,1400)(2320,1375)(2350,1385)(2260,1365)
(2030,1490)(2060,1495)(2090,1495)(2120,1490)(2150,1495)(2060,1520)(2070,1530)(2100,1520)(2120,1520)(2060,1545)(2085,1540)(2035,1520)
(2240,1500)(2260,1510)(2250,1495)(2280,1490)(2300,1500)(2250,1525)(2300,1430)(2320,1440)(2335,1460)(2355,1450)(2370,1465)(2335,1480)(2370,1480)(2295,1470)
(2150,1680)(2165,1695)(2195,1685)(2195,1660)(2215,1675)(2220,1700)(2240,1670)(2200,1710)(2420,1640)(2440,1670)(2460,1640)(2440,1690)(2460,1675)(2410,1660)
(2530,1490)(2540,1540)(2510,1530)(2530,1520)(2495,1550)(2540,1560)(2530,1580)
(2240,1060)(2260,1060)(2250,1080)(2280,1050)(2290,1070)(2310,1070)(2330,1080)(2350,1075)(2370,1060)(2400,1075)(2410,1060)(2420,1085)(2440,1075)(2340,1110)(2350,1100)
(2120,950)(2150,945)(2185,940)(2140,975)(2170,975)(2190,965)(2150,960)(2205,985)(1940,960)(1960,1000)(1970,985)(2000,1000)(1960,1055)(2000,950)(2010,1000)(1990,1010)
(2565,950)(2600,940)(2620,955)(2615,1000)(2660,1040)(2630,1040)(2630,1010)(2650,1000)(2640,1070)(2610,1050)(2655,1110)(2640,1100)(2670,1100)(2640,1130)(2650,1060)
(2880,950)(2900,990)(2925,960)(2880,990)(2850,980)(2870,1000)(2935,1000)(2915,1010)(2750,1030)(2765,1040)(2760,1060)(2760,1000)(2785,1010)(2745,1060)
(2850,1070)(2875,1075)(2900,1075)(2915,1075)(2880,1090)(2885,1105)(2905,1110)(2925,1095)(3080,1030)(3075,1045)(3085,1010)(3110,1020)(3125,985)
(3190,985)(3210,1000)(3195,1020)(3220,1020)(3250,1020)(3240,1040)(3190,1005)(3240,1005)(3090,1110)(3110,1120)(3125,1115)(3095,1135)(3080,1125)(3115,1145)
(3030,1400)(3045,1400)(3030,1410)(3010,1410)(3055,1440)(3085,1430)(3060,1455)(3085,1465)(3120,1445)(3100,1480)(3090,1470)(3150,1430)(3115,1465)(3135,1445)
(2955,1325)(2975,1315)(3000,1320)(3020,1315)(3040,1320)(3050,1310)(3075,1310)(2945,1310)(2715,1430)(2730,1410)(2760,1410)(2785,1415)(2800,1415)(2760,1445)(2785,1445)(2800,1455)(2735,1410)(2720,1450)
(2965,1660)(2985,1660)(3020,1640)(3020,1660)(3040,1665)(2970,1690)(3000,1700)(2990,1710)(2975,1705)(3020,1700)(3040,1700)(2730,1650)(2780,1630)(2750,1640)(2730,1620)(2780,1660)(2870,1500)(2900,1490)(2930,1500)(2900,1510)
(2275,2140)(2300,2145)(2320,2130)(2345,2130)(2320,2170)(2345,2180)(2380,2160)(2415,2155)(2440,2165)(2465,2170)(2480,2160)(2380,2180)(2410,2175)
(2520,2120)(2555,2120)(2590,2125)(2630,2120)(2680,2120)(2700,2080)(2700,2110)
(1510,2150)(1520,2165)(1545,2150)(1575,2150)(1575,2175)(1515,2200)(1540,2195)(1565,2190)(1595,2150)(1560,2135)(1640,2120)(1610,2115)(1635,2145)
(1745,2345)(1730,2345)(1760,2350)(1800,2345)(1765,2345)(1780,2350)(1760,2375)(1785,2385)
(2320,1820)(2325,1840)(2620,1820)(2680,1800)(2640,1810)(2670,1830)(1815,1920)(1820,1860)(2165,1990)(2170,2005)(2200,2020)(2220,2045)(2240,2050)(2240,2035)
(1815,2370)(1835,2370)(1870,2365)(1800,2370)(1825,2410)(1800,2395)(1870,2225)(1895,2225)(1835,2205)(1880,2100)(1895,2115)(1920,2125)(1940,2135)(1920,2145)(1895,2150)
(930,1870)(905,1895)(950,1880)(965,1900)(940,1900)(920,1945)(945,1945)(905,2300)(905,2330)(930,2350)(945,2345)(930,2370)(910,2380)(935,2400)(1000,2320)(1030,2310)(1020,2330)(970,2320)(950,2310)
(1055,2400)(1070,2420)(1045,2420)(1110,2420)(1125,2430)(1135,2415)(1140,2425)(1120,2450)(1100,2500)(1140,2480)(1130,2445)(1200,2405)(1225,2410)(1245,2400)(1265,2380)(1270,2400)(1240,2440)(1255,2395)
(1165,2500)(1190,2490)(1205,2505)(1220,2520)(1180,2510)(1135,2510)
(560,1650)(585,1650)(610,1610)(640,1640)(660,1630)(620,1680)(590,1630)(620,1640)(540,1650)(510,1690)(570,1620)(590,1605)(620,1570)(650,1610)(680,1570)(700,1570)(665,1560)(635,1600)
};
% orange, drawn last
\addplot[only marks,mark=*,mark size=3.55pt,color=taborange,mark options={draw=none,fill=taborange}] coordinates {
(765,490)(772,496)(863,450)(845,490)(840,508)(870,480)(880,520)(880,555)(875,605)(878,622)(895,650)(183,850)(210,857)(250,858)(85,888)(45,900)(145,893)
(940,435)(965,430)(1070,420)(1105,440)(1140,428)(1125,455)(1095,505)(930,480)(950,460)(900,480)(995,500)(1020,520)(1045,495)(960,500)(900,530)(930,530)(910,560)(930,590)(960,600)(1010,610)(1030,580)(1060,615)(1015,635)(980,640)(905,650)(1075,540)(1000,640)
(920,450)(955,480)(985,470)(1010,490)(1030,540)(1000,600)(1030,610)(940,615)(905,600)(965,625)(920,500)(1100,465)(1075,450)(1045,430)(1115,485)(1090,480)
(1233,525)(1333,545)(1300,575)(1330,580)(1303,318)(1298,340)(1330,345)(1325,325)
(1453,260)(1497,248)(1550,268)(1400,285)(1390,305)(1455,310)(1475,290)(1515,285)(1448,350)(1533,350)(1582,363)
(1435,605)(1450,640)(1483,628)(1595,590)(1585,608)(1540,657)(1528,685)(1563,725)
(1775,718)(1225,708)(1205,720)(1250,740)(1200,752)(1235,755)
(1453,805)(1455,848)(1355,875)(1410,870)(1145,882)(960,890)(1795,155)
(1802,155)(1822,412)(2748,485)(2745,873)
(40,905)(60,930)(60,962)(150,980)(165,980)(95,915)(170,925)(150,920)(100,985)(112,995)(85,900)(75,930)
(742,1342)(855,1335)(847,1390)(825,1483)(423,1655)(735,1540)(715,1580)(740,1585)(777,1608)(785,1580)(815,1540)(880,1575)(895,1645)(845,1650)(820,1675)(800,1680)(878,1778)(585,1768)(715,1780)
(1087,1028)(1160,1045)(1168,1090)(1110,1125)(1155,1205)(1240,1165)(1210,1165)(1175,1170)(1115,1230)(1125,1200)(1095,1275)(1150,1265)
(1200,1305)(1218,1290)(1218,1335)(1260,1300)(1280,1225)
(1345,1265)(1375,1273)(1405,1272)(1460,1295)(1500,1275)(1490,1280)(1443,1055)(1387,1112)
(1390,1208)(1412,1208)(1535,1143)(1560,1100)(1600,1090)(1630,1070)(1650,1055)(1590,1150)(1665,1135)(1715,1135)(1730,1165)(1750,1150)(1795,1140)
(1660,1225)(1775,1212)(1715,1210)(1550,1210)(1520,1240)(1570,1220)(1630,1250)
(1660,1330)(1685,1360)(1670,1370)(1780,1255)(1750,1245)(1790,1285)(1760,1270)(1800,1280)(1780,1325)(1790,1375)
(1605,1360)(1440,1340)(1475,1335)(1460,1355)(1490,1340)(1445,1365)(1470,1325)
(1508,1395)(1555,1405)(1632,1402)(1585,1415)(1590,1440)(1530,1440)(1525,1430)(1425,1455)(1410,1455)(1390,1440)(1365,1455)(1350,1470)(1275,1365)(1295,1365)(1345,1370)(1295,1420)(1310,1450)(1365,1340)
(1520,1480)(1500,1490)(1530,1530)(1530,1555)(1635,1538)(1605,1550)(1630,1495)(1625,1480)
(1670,1460)(1710,1405)(1755,1466)(1730,1500)(1775,1530)(1790,1570)(1775,1620)(1735,1665)
(1390,1520)(1412,1515)(1280,1530)(1255,1545)(1200,1590)(1310,1580)(1227,1620)(1247,1632)
(1060,1650)(1078,1648)(900,1645)(1118,1720)(935,1330)(997,1358)(915,1390)(958,1403)(985,1420)(1020,1410)(1005,1450)(1025,1430)(965,1468)
(1135,1470)(1128,1495)(1145,1505)(930,1540)(905,1540)
(1345,970)(1370,910)(1430,915)(1460,950)(1445,930)
(1890,920)(1805,915)(1840,980)(1820,1015)(1860,1035)(2055,1080)(2138,1042)(1840,1078)(1875,1092)(1885,1150)(1900,1170)(1995,1193)(2105,1175)(1800,1165)(1830,1193)(1810,1180)
(2045,1242)(1865,1270)(1805,1288)(1893,1308)(1925,1370)(1845,1418)(1805,1380)(1995,1505)(1943,1675)(1957,1762)
(2395,1663)
(1700,1530)(1660,1500)
(555,2138)(655,2172)(742,2102)(800,2082)
(982,2233)(1195,2265)(1113,2313)(988,2430)(1218,2225)(1250,2215)(1275,2205)(1258,2230)(1232,2283)(1445,2165)(1218,2113)
(1852,2018)(1960,1998)
(2145,2337)(2245,1955)
};
\end{axis}
\end{tikzpicture}
\end{document}
